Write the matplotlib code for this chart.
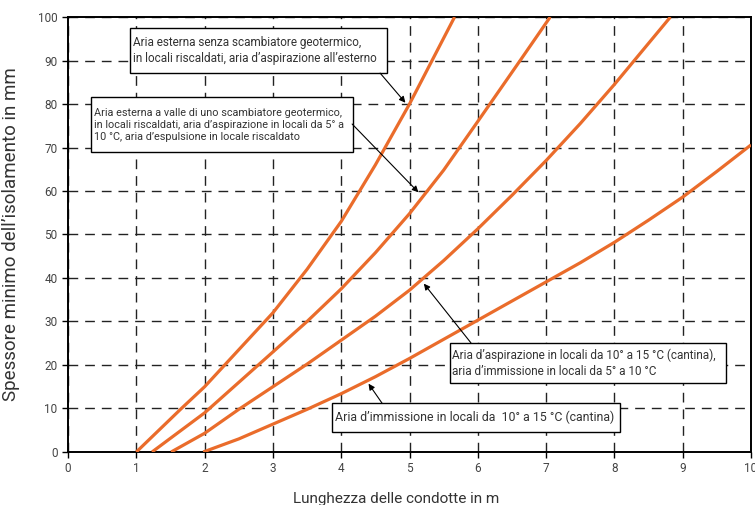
import matplotlib
matplotlib.use("Agg")
import matplotlib.pyplot as plt
from matplotlib.patches import Rectangle

plt.rcParams['font.family'] = ['Roboto', 'DejaVu Sans']

# Curve (lunghezza in m, spessore in mm)
x1 = [1.0, 1.66, 2.0, 2.5, 3.0, 3.5, 4.0, 4.5, 5.0, 5.33, 5.66]
y1 = [0, 10, 15, 23.5, 32, 42, 53, 66, 80, 90, 100]

x2 = [1.23, 2.0, 2.5, 3.0, 3.5, 4.0, 4.5, 5.0, 5.5, 6.0, 6.62, 7.06]
y2 = [0, 9, 16, 23, 30, 37.5, 45.8, 54.8, 64.8, 76, 90, 100]

x3 = [1.51, 2.0, 2.5, 3.0, 3.5, 4.0, 4.5, 5.0, 5.5, 6.0, 6.5, 7.0, 7.5, 8.0, 8.82]
y3 = [0, 4.3, 9.8, 15, 20.2, 25.7, 31.2, 37.2, 44, 51.3, 59, 67, 75.5, 84.5, 100]

x4 = [1.98, 2.5, 3.0, 3.5, 4.0, 4.5, 5.0, 5.5, 6.0, 6.5, 7.0, 7.5, 8.0, 8.5, 9.0, 9.5, 10.0]
y4 = [0, 3, 6.4, 9.8, 13.4, 17.3, 21.5, 25.9, 30.3, 34.7, 39.1, 43.5, 48.2, 53.3, 58.6, 64.5, 70.6]

xticks = list(range(0, 11))
yticks = list(range(0, 101, 10))

testi = [
    "Aria esterna senza scambiatore geotermico,\nin locali riscaldati, aria d\u2019aspirazione all\u2019esterno",
    "Aria esterna a valle di uno scambiatore geotermico,\nin locali riscaldati, aria d\u2019aspirazione in locali da 5\u00b0 a\n10 \u00b0C, aria d\u2019espulsione in locale riscaldato",
    "Aria d\u2019aspirazione in locali da 10\u00b0 a 15 \u00b0C (cantina),\naria d\u2019immissione in locali da 5\u00b0 a 10 \u00b0C",
    "Aria d\u2019immissione in locali da  10\u00b0 a 15 \u00b0C (cantina)",
]
# riquadri (x0, x1, y0, y1), corpo del testo e frecce (coda, punta)
box = [(0.905, 4.669, 87.1, 97.4), (0.343, 4.179, 68.9, 81.65),
       (5.587, 9.629, 15.76, 25.07), (3.862, 8.079, 4.66, 11.17)]
corpo = [8.5, 7.8, 8.5, 8.9]
frecce = [((4.57, 87.1), (4.94, 80.3)), ((4.16, 75.4), (5.13, 59.7)),
          ((5.90, 25.07), (5.21, 38.7)), ((4.60, 11.17), (4.40, 15.7))]

fig = plt.figure(figsize=(7.55, 5.05), dpi=100)
ax = fig.add_axes([0.0901, 0.105, 0.9046, 0.8613])

arancio = '#EA6C2B'
for xs, ys in [(x1, y1), (x2, y2), (x3, y3), (x4, y4)]:
    ax.plot(xs, ys, color=arancio, lw=2.3, solid_capstyle='butt',
            solid_joinstyle='round', zorder=3)

ax.set_xlim(0, 10)
ax.set_ylim(0, 100)
ax.set_xticks(xticks)
ax.set_yticks(yticks)
ax.grid(True, color='#222222', lw=1.0, linestyle=(0, (7, 5)))
ax.tick_params(direction='out', length=4, width=1, labelsize=8.5, labelcolor='#444444')
for s in ax.spines.values():
    s.set_linewidth(1.4)

for (bx0, bx1, by0, by1), t, fs in zip(box, testi, corpo):
    ax.add_patch(Rectangle((bx0, by0), bx1 - bx0, by1 - by0, facecolor='white',
                           edgecolor='black', lw=1.0, zorder=4))
    ax.text(bx0 + 0.04, (by0 + by1) / 2, t, ha='left', va='center', fontsize=fs,
            color='#333333', linespacing=1.25, zorder=5)

for (xt, yt), (xp, yp) in frecce:
    ax.annotate('', xy=(xp, yp), xytext=(xt, yt),
                arrowprops=dict(arrowstyle='-|>', color='black', lw=0.8,
                                mutation_scale=9, shrinkA=0, shrinkB=0), zorder=6)

ax.set_xlabel("Lunghezza delle condotte in m", fontsize=11, color='#333333')
ax.xaxis.set_label_coords(0.48, -0.091)
ax.set_ylabel("Spessore minimo dell\u2019isolamento in mm", fontsize=13.5, color='#333333')
ax.yaxis.set_label_coords(-0.071, 0.5)

fig.savefig("out.png", dpi=100)
